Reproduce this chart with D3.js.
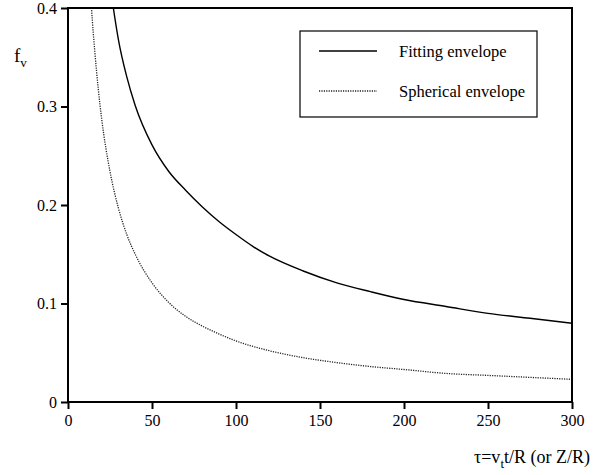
<!DOCTYPE html>
<meta charset="utf-8">
<style>
  body { margin: 0; background: #fff; }
  text { font-family: "Liberation Serif", "DejaVu Serif", serif; fill: #000; }
</style>
<svg width="595" height="475"></svg>
<script src="https://d3js.org/d3.v7.min.js"></script>
<script>

  // values
  var fitTau = [26, 27, 30, 35, 40, 50, 60, 70, 80, 90, 100, 110, 120, 140, 160, 180, 200, 225, 250, 275, 300],
      fitF   = [0.412, 0.400, 0.368, 0.330, 0.301, 0.261, 0.234, 0.215, 0.198, 0.183, 0.170, 0.158, 0.148, 0.133, 0.121, 0.112, 0.104, 0.097, 0.090, 0.085, 0.080];

  var sphTau = [13.5, 14, 16, 18, 20, 25, 30, 35, 40, 50, 60, 70, 80, 90, 100, 120, 140, 160, 180, 200, 225, 250, 275, 300],
      sphF   = [0.415, 0.400, 0.355, 0.318, 0.288, 0.234, 0.197, 0.170, 0.150, 0.121, 0.101, 0.087, 0.077, 0.069, 0.062, 0.052, 0.045, 0.040, 0.036, 0.033, 0.029, 0.027, 0.025, 0.023];

  var xTicks = [0, 50, 100, 150, 200, 250, 300],
      yTicks = [0, 0.1, 0.2, 0.3, 0.4];

  var svg = d3.select("svg"),
      mLeft = 68, mRight = 572, mTop = 8, mBottom = 402;

  var x = d3.scaleLinear().domain([0, 300]).range([mLeft, mRight]),
      y = d3.scaleLinear().domain([0, 0.4]).range([mBottom, mTop]);

  svg.append("clipPath").attr("id", "clip")
    .append("rect").attr("x", mLeft).attr("y", mTop).attr("width", mRight - mLeft).attr("height", mBottom - mTop);

  var line = d3.line()
      .x(function(d) { return x(d[0]); })
      .y(function(d) { return y(d[1]); })
      .curve(d3.curveMonotoneX);

  var g = svg.append("g").attr("clip-path", "url(#clip)");

  g.append("path")
      .datum(d3.zip(fitTau, fitF))
      .attr("fill", "none").attr("stroke", "#000").attr("stroke-width", 1.4)
      .attr("d", line);

  g.append("path")
      .datum(d3.zip(sphTau, sphF))
      .attr("fill", "none").attr("stroke", "#222").attr("stroke-width", 1.3)
      .attr("stroke-dasharray", "1.2,1.2")
      .attr("d", line);

  // axes
  var xAxis = svg.append("g")
      .attr("transform", "translate(0," + mBottom + ")")
      .call(d3.axisBottom(x).tickValues(xTicks).tickSize(7).tickSizeOuter(0).tickPadding(6).tickFormat(d3.format("d")));

  var yAxis = svg.append("g")
      .attr("transform", "translate(" + mLeft + ",0)")
      .call(d3.axisLeft(y).tickValues(yTicks).tickSize(7).tickSizeOuter(0).tickPadding(4)
        .tickFormat(function(d) { return d === 0 ? "0" : d3.format(".1f")(d); }));

  [xAxis, yAxis].forEach(function(a) {
    a.select(".domain").remove();
    a.selectAll("line").attr("stroke", "#000").attr("stroke-width", 2);
    a.selectAll("text").style("font-family", "Liberation Serif, serif").style("font-size", "16px");
  });

  // frame
  svg.append("rect")
      .attr("x", mLeft).attr("y", mTop).attr("width", mRight - mLeft).attr("height", mBottom - mTop)
      .attr("fill", "none").attr("stroke", "#000").attr("stroke-width", 2);

  // legend
  svg.append("rect")
      .attr("x", 300).attr("y", 31).attr("width", 237).attr("height", 86)
      .attr("fill", "#fff").attr("stroke", "#000").attr("stroke-width", 1.2);

  svg.append("line").attr("x1", 319).attr("x2", 377).attr("y1", 51).attr("y2", 51)
      .attr("stroke", "#000").attr("stroke-width", 1.4);
  svg.append("line").attr("x1", 319).attr("x2", 377).attr("y1", 91).attr("y2", 91)
      .attr("stroke", "#222").attr("stroke-width", 1.3).attr("stroke-dasharray", "1.2,1.2");

  svg.append("text").attr("x", 399).attr("y", 57).style("font-size", "16.5px").text("Fitting envelope");
  svg.append("text").attr("x", 399).attr("y", 97).style("font-size", "16.5px").text("Spherical envelope");

  // axis titles
  var fy = svg.append("text").attr("x", 14).attr("y", 62).style("font-size", "19px");
  fy.append("tspan").text("f");
  fy.append("tspan").attr("dy", 5).style("font-size", "13px").text("v");

  var tx = svg.append("text").attr("x", 590).attr("y", 463).attr("text-anchor", "end").style("font-size", "18px");
  tx.append("tspan").text("τ=v");
  tx.append("tspan").attr("dy", 5).style("font-size", "13px").text("t");
  tx.append("tspan").attr("dy", -5).text("t/R (or Z/R)");

</script>
